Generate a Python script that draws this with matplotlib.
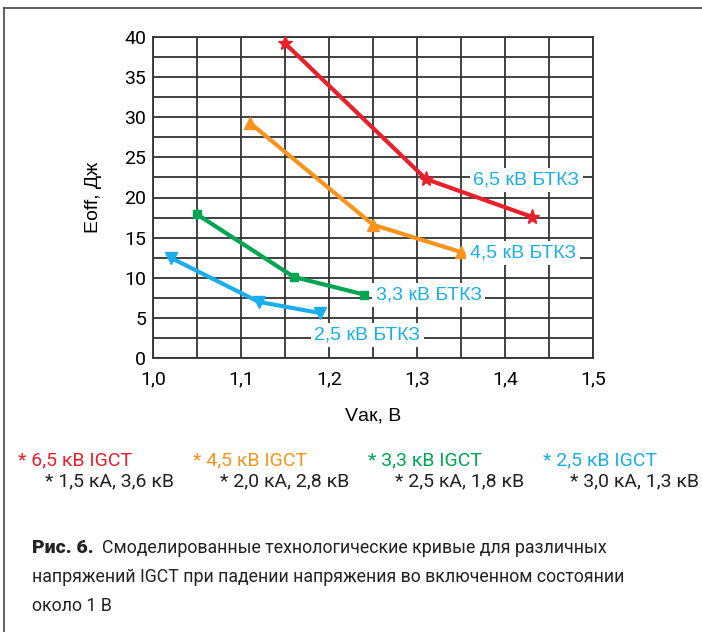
import matplotlib.pyplot as plt
from matplotlib.lines import Line2D
import numpy as np

plt.rcParams['font.family'] = ['Roboto', 'DejaVu Sans']

# data
v_65 = [1.15, 1.31, 1.43]
e_65 = [39.2, 22.3, 17.6]
v_45 = [1.11, 1.25, 1.35]
e_45 = [29.3, 16.6, 13.2]
v_33 = [1.05, 1.16, 1.24]
e_33 = [17.9, 10.1, 7.9]
v_25 = [1.02, 1.12, 1.19]
e_25 = [12.5, 7.0, 5.6]

curve_labels = ['6,5 кВ БТКЗ', '4,5 кВ БТКЗ', '3,3 кВ БТКЗ', '2,5 кВ БТКЗ']
label_pos = [(1.364, 22.2), (1.360, 13.1), (1.253, 7.85), (1.183, 2.9)]
igct_names = ['* 6,5 кВ IGCT', '* 4,5 кВ IGCT', '* 3,3 кВ IGCT', '* 2,5 кВ IGCT']
igct_specs = ['* 1,5 кА, 3,6 кВ', '* 2,0 кА, 2,8 кВ', '* 2,5 кА, 1,8 кВ', '* 3,0 кА, 1,3 кВ']

red = '#E8202A'
orange = '#F7941D'
green = '#00A651'
blue = '#1CAEEC'
label_col = '#1AAEEA'

fig = plt.figure(figsize=(7.02, 6.32), dpi=100)
ax = fig.add_axes([0.218, 0.4335, 0.627, 0.508])

ax.plot(v_65, e_65, color=red, lw=3, marker='*', ms=11, zorder=3)
ax.plot(v_45, e_45, color=orange, lw=3, marker='^', ms=9, zorder=3)
ax.plot(v_33, e_33, color=green, lw=3, marker='s', ms=6, zorder=3)
ax.plot(v_25, e_25, color=blue, lw=3, marker='v', ms=9, zorder=3)

for txt, (x, y) in zip(curve_labels, label_pos):
    ax.text(x, y, txt, color=label_col, fontsize=14, family=['Liberation Sans', 'DejaVu Sans'],
            va='center', ha='left', zorder=4,
            bbox=dict(facecolor='white', edgecolor='none', pad=2.5))

xs = np.arange(1.0, 1.51, 0.05)
ys = np.arange(0, 40.1, 2.5)
ax.set_xlim(1.0, 1.5)
ax.set_ylim(0, 40)
ax.set_xticks(xs)
ax.set_yticks(ys)
ax.set_xticklabels([f'{v:.1f}'.replace('.', ',') if round(v * 100) % 10 == 0 else '' for v in xs])
ax.set_yticklabels([f'{int(v)}' if v % 5 == 0 else '' for v in ys])
ax.grid(True, color='#333333', lw=1.3)
ax.set_axisbelow(True)
ax.tick_params(axis='x', length=0, labelsize=14, pad=9)
ax.tick_params(axis='y', length=0, labelsize=14, pad=5)
for s in ax.spines.values():
    s.set_color('#333333')
    s.set_linewidth(1.3)

ax.set_xlabel('Vак, В', fontsize=14, family=['Liberation Sans', 'DejaVu Sans'], labelpad=14)
ax.set_ylabel('Eoff, Дж', fontsize=14, family=['Liberation Sans', 'DejaVu Sans'], labelpad=16)

# outer frame (left and top)
fig.add_artist(Line2D([4 / 702, 4 / 702], [0, 1 - 8 / 632], color='#444444', lw=1.2))
fig.add_artist(Line2D([4 / 702, 1], [1 - 8 / 632, 1 - 8 / 632], color='#444444', lw=1.2))

# notes under the chart
cols = [red, orange, green, label_col]
for i in range(4):
    fig.text((18 + 175 * i) / 702, 1 - 460 / 632, igct_names[i], color=cols[i],
             fontsize=14, va='center', ha='left')
    fig.text((45 + 175 * i) / 702, 1 - 481 / 632, igct_specs[i], color='#222222',
             fontsize=14, va='center', ha='left')

# caption
cap = 12.8
fig.text(32 / 702, 1 - 548 / 632, 'Рис. 6.', fontsize=cap + 1.2, fontweight='heavy',
         color='#222222', va='center', ha='left')
fig.text(102 / 702, 1 - 548 / 632, 'Смоделированные технологические кривые для различных',
         fontsize=cap, color='#222222', va='center', ha='left')
fig.text(32 / 702, 1 - 577 / 632,
         'напряжений IGCT при падении напряжения во включенном состоянии',
         fontsize=cap, color='#222222', va='center', ha='left')
fig.text(32 / 702, 1 - 606 / 632, 'около 1 В', fontsize=cap, color='#222222',
         va='center', ha='left')

fig.savefig('out.png', dpi=100)
